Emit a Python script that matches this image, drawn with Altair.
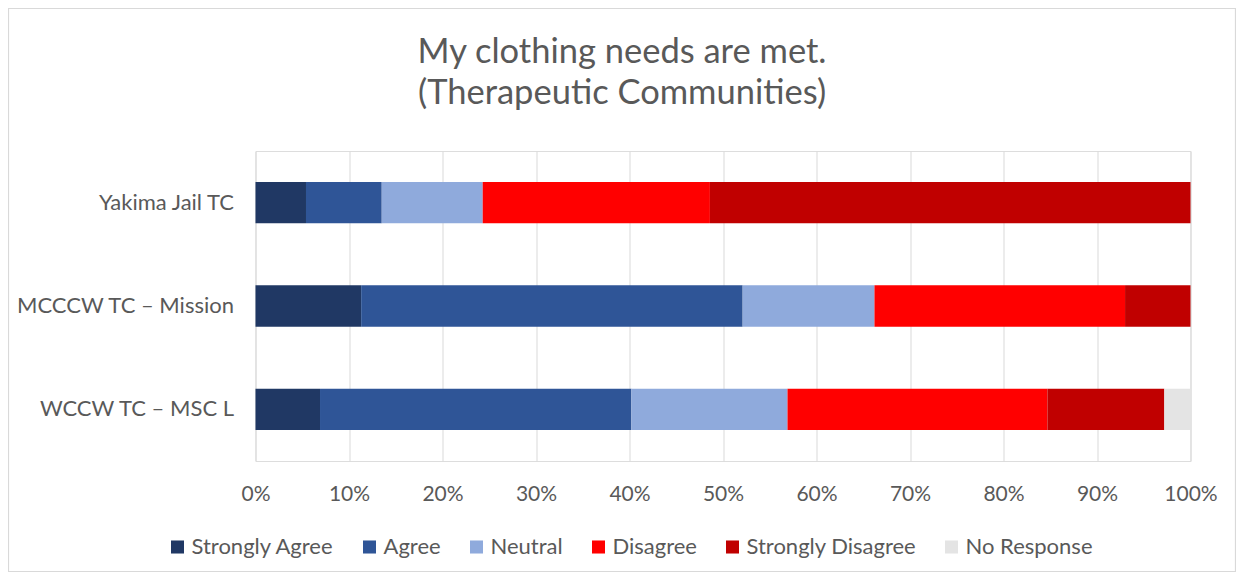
import altair as alt
import pandas as pd

categories = ["Yakima Jail TC", "MCCCW TC – Mission", "WCCW TC – MSC L"]
responses = ["Strongly Agree", "Agree", "Neutral", "Disagree", "Strongly Disagree", "No Response"]
colors = ["#203864", "#2f5597", "#8faadc", "#ff0000", "#c00000", "#e4e4e4"]

strongly_agree = [5.4, 11.3, 6.9]
agree = [8.1, 40.8, 33.3]
neutral = [10.8, 14.1, 16.7]
disagree = [24.3, 26.8, 27.8]
strongly_disagree = [51.4, 7.0, 12.5]
no_response = [0.0, 0.0, 2.8]

series = [strongly_agree, agree, neutral, disagree, strongly_disagree, no_response]
rows = []
for ri, (resp, vals) in enumerate(zip(responses, series)):
    for cat, v in zip(categories, vals):
        rows.append({"category": cat, "response": resp, "order": ri, "value": v / 100.0})
df = pd.DataFrame(rows)

FONT = "Lato"
TXT = "#595959"

bars = alt.Chart(df).mark_bar().encode(
    x=alt.X("value:Q", stack="zero",
            scale=alt.Scale(domain=[0, 1], nice=False),
            axis=alt.Axis(format=".0%", values=[i / 10 for i in range(11)], title=None,
                          grid=True, gridColor="#d9d9d9", gridWidth=1,
                          domain=False, ticks=False, labelFontSize=21,
                          labelColor=TXT, labelFont=FONT, labelPadding=22,
                          labelFlush=False)),
    y=alt.Y("category:N", sort=categories,
            scale=alt.Scale(paddingInner=0.6, paddingOuter=0.3),
            axis=alt.Axis(title=None, domain=False, ticks=False, grid=False,
                          labelFontSize=22, labelColor=TXT, labelFont=FONT,
                          labelPadding=22, labelLimit=300)),
    color=alt.Color("response:N", sort=responses,
                    scale=alt.Scale(domain=responses, range=colors),
                    legend=alt.Legend(title=None, orient="none", direction="horizontal",
                                      legendX=-89, legendY=385,
                                      symbolType="square", symbolSize=170,
                                      symbolStrokeWidth=0, labelFontSize=22,
                                      labelFont=FONT, labelColor=TXT, labelOffset=3,
                                      columnPadding=24, columns=6, labelLimit=300)),
    order=alt.Order("order:Q"),
)

border = alt.Chart(pd.DataFrame({"k": [0]})).mark_rect(
    fill=None, stroke="#d9d9d9", strokeWidth=1.2
).encode(
    x=alt.value(-247), x2=alt.value(980), y=alt.value(-142.5), y2=alt.value(420.5)
)

chart = alt.layer(bars, border).properties(
    width=935, height=310,
    title=alt.TitleParams(["My clothing needs are met.", "(Therapeutic Communities)"],
                          fontSize=34.5, font=FONT, color=TXT, fontWeight="normal",
                          lineHeight=41, anchor="middle", frame="bounds", offset=-104),
    autosize=alt.AutoSizeParams(type="none"),
    padding={"left": 247.5, "top": 143, "right": 45.5, "bottom": 111},
).configure_view(stroke=None).configure(background="white")

chart.save("out.html", embed_options={"renderer": "svg", "actions": False})
